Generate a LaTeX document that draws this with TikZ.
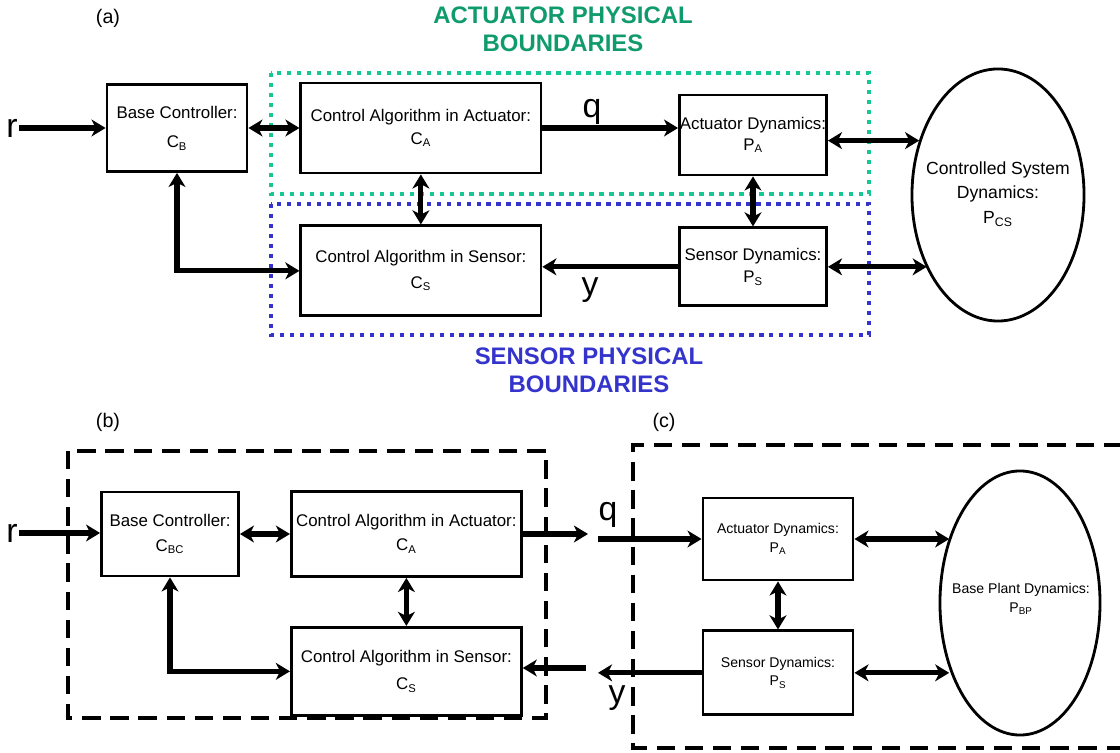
\documentclass[tikz,border=0pt]{standalone}
\usepackage{fontspec}
\setmainfont{Liberation Sans}
\usepackage{xcolor}
\definecolor{colorActuator}{RGB}{22,198,148}
\definecolor{colorActuatorText}{RGB}{16,155,108}
\definecolor{colorSensor}{RGB}{52,52,205}
\usetikzlibrary{arrows.meta, shapes.geometric, positioning}
\tikzset{
  block/.style={draw, line width=2pt, align=center, inner sep=0pt, font=\fontsize{12}{15}\selectfont},
  smallblock/.style={block, font=\fontsize{10}{13}\selectfont},
  plant/.style={draw, ellipse, line width=2pt, inner sep=0pt},
  link/.style={line width=3.6pt},
  dotbound/.style={line width=2.8pt, dash pattern=on 3.2pt off 3.9pt},
  dashbound/.style={line width=3.4pt, dash pattern=on 13pt off 7pt},
  sig/.style={font=\fontsize{24}{24}\selectfont, inner sep=1pt},
  panel/.style={font=\fontsize{14}{14}\selectfont},
  boundtitle/.style={font=\fontsize{17}{20}\selectfont\bfseries, align=center}
}

\begin{document}
\begin{tikzpicture}[>={Stealth[length=10pt, width=12pt, inset=3pt]}, x=0.025cm, y=-0.025cm]
\useasboundingbox (0,0) rectangle (1120,753);

% (a) whole loop
\node[panel] (labA) at (108,18) {(a)};
\node[boundtitle, text=colorActuatorText] (titleAct) at (563,29) {ACTUATOR PHYSICAL\\BOUNDARIES};
\node[boundtitle, text=colorSensor] (titleSen) at (589,370) {SENSOR PHYSICAL\\BOUNDARIES};
\draw[dotbound, colorActuator] (271,73) rectangle (869,194);
\draw[dotbound, colorSensor] (271,204) rectangle (869,335);

\node[sig] (rA) at (12,128) {r};
\node[block, minimum width=3.5cm, minimum height=2.175cm] (bcA) at (177,128) {Base Controller:\\[6pt]C\textsubscript{B}};
\node[block, minimum width=6cm, minimum height=2.25cm, right=1.275cm of bcA] (caA) {Control Algorithm in Actuator:\\[1pt]C\textsubscript{A}};
\node[block, minimum width=3.675cm, minimum height=2cm] (adA) at (753,135) {Actuator Dynamics:\\P\textsubscript{A}};
\node[block, minimum width=6cm, minimum height=2.25cm, below=1.25cm of caA] (csA) {Control Algorithm in Sensor:\\[3pt]C\textsubscript{S}};
\node[block, minimum width=3.675cm, minimum height=1.95cm, below=1.25cm of adA] (sdA) {Sensor Dynamics:\\[1pt]P\textsubscript{S}};
\node[plant, minimum width=4.3cm, minimum height=6.3cm] (csysA) at (998,195) {};
\node[align=center, font=\fontsize{12.5}{17.5}\selectfont] (csysTxt) at (998,194) {Controlled System\\Dynamics:\\P\textsubscript{CS}};
\node[sig] (qA) at (592,112) {q};
\node[sig] (yA) at (590,290) {y};
\coordinate (adOut) at ([yshift=-4pt]adA.east);

\draw[link, ->] (rA.east) -- (rA.east -| bcA.west);
\draw[link, <->] (bcA.east) -- (caA.west);
\draw[link, ->] (caA.east) -- (caA.east -| adA.west);
\draw[link, <->] (caA.south) -- (csA.north);
\draw[link, <->] (adA.south) -- (sdA.north);
\draw[link, ->] (sdA.west) -- (sdA.west -| csA.east);
\draw[link, <->] (bcA.south) |- (csA.west);
\draw[link, <->] (adOut) -- (csysA.145 |- adOut);
\draw[link, <->] (sdA.east) -- (csysA.226 |- sdA.east);

% (b) controller side
\node[panel] (labB) at (108,422) {(b)};
\draw[dashbound] (68,451) rectangle (546,718);
\node[sig] (rB) at (12,533) {r};
\node[block, minimum width=3.425cm, minimum height=2.1cm] (bcB) at (170,534) {Base Controller:\\[3pt]C\textsubscript{BC}};
\node[block, minimum width=5.75cm, minimum height=2.125cm, right=1.25cm of bcB] (caB) {Control Algorithm in Actuator:\\[2pt]C\textsubscript{A}};
\node[block, minimum width=5.75cm, minimum height=2.2cm, below=1.2cm of caB] (csB) {Control Algorithm in Sensor:\\[4pt]C\textsubscript{S}};
\coordinate (qOutB) at (588,534);
\coordinate (yInB) at (586,668);

\draw[link, ->] (rB.east) -- (rB.east -| bcB.west);
\draw[link, <->] (bcB.east) -- (caB.west);
\draw[link, <->] (caB.south) -- (csB.north);
\draw[link, <->] (bcB.south) |- (csB.west);
\draw[link, ->] (caB.east) -- (caB.east -| qOutB);
\draw[link, ->] (yInB) -- (yInB -| csB.east);

% (c) plant side
\node[panel] (labC) at (664,422) {(c)};
\draw[dashbound] (1122,445) -- (633,445) -- (633,748) -- (1122,748);
\node[smallblock, minimum width=3.75cm, minimum height=2.05cm] (adC) at (778,539) {Actuator Dynamics:\\P\textsubscript{A}};
\node[smallblock, minimum width=3.75cm, minimum height=2.1cm, below=1.2cm of adC] (sdC) {Sensor Dynamics:\\P\textsubscript{S}};
\node[plant, minimum width=4cm, minimum height=6.6cm] (bpC) at (1020,603) {};
\node[align=center, font=\fontsize{10}{13}\selectfont] (bpTxt) at (1021,599) {Base Plant Dynamics:\\P\textsubscript{BP}};
\coordinate (qInC) at (598,539);
\coordinate (yOutC) at (598,670);
\node[sig] (qC) at (608,515) {q};
\node[sig] (yC) at (617,698) {y};

\draw[link, ->] (qInC) -- (qInC -| adC.west);
\draw[link, ->] (sdC.west) -- (sdC.west -| yOutC);
\draw[link, <->] (adC.south) -- (sdC.north);
\draw[link, <->] (adC.east) -- (bpC.137 |- adC.east);
\draw[link, <->] (sdC.east) -- (bpC.223 |- sdC.east);
\end{tikzpicture}
\end{document}
